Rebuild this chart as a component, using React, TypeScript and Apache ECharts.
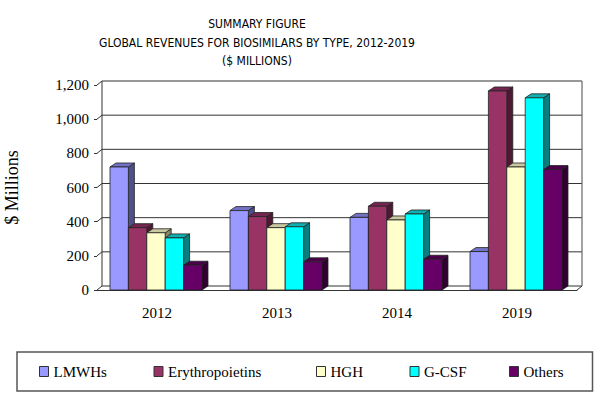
import React, { useEffect, useRef } from "react";
import * as echarts from "echarts";

const categories = ["2012", "2013", "2014", "2019"];
const seriesNames = ["LMWHs", "Erythropoietins", "HGH", "G-CSF", "Others"];
const lmwhs = [720, 465, 425, 225];
const erythropoietins = [365, 430, 490, 1165];
const hgh = [335, 365, 410, 720];
const gcsf = [305, 370, 445, 1125];
const others = [145, 165, 180, 705];
const yTicks = [0, 200, 400, 600, 800, 1000, 1200];
const titleLines = [
  "SUMMARY FIGURE",
  "GLOBAL REVENUES FOR BIOSIMILARS BY TYPE, 2012-2019",
  "($ MILLIONS)",
];

const values = [lmwhs, erythropoietins, hgh, gcsf, others];
const frontColors = ["#9999FF", "#993366", "#FFFFCC", "#00FFFF", "#660066"];
const topColors = ["#7373c6", "#742650", "#c9c9a1", "#10b0b0", "#4a004a"];
const sideColors = ["#4f4f8e", "#4e1932", "#85856a", "#0a7f7f", "#300030"];
const legendTextWidths = [100, 148, 79, 85, 60];

const DX = 6;
const DY = -4;
const WDX = 5;
const WDY = -4;
const LINE = "#333";

export default function App() {
  const ref = useRef<HTMLDivElement>(null);
  useEffect(() => {
    document.body.style.margin = "0";
    const chart = echarts.init(ref.current!, null, { renderer: "svg" });

    const barSeries = seriesNames.map((name, si) => ({
      name,
      type: "custom",
      z: 3,
      itemStyle: { color: frontColors[si] },
      encode: { x: 0, y: 1 },
      data: values[si].map((v, i) => [i, v]),
      renderItem: (params: any, api: any) => {
        const cat = api.value(0);
        const val = api.value(1);
        const base = api.coord([cat, 0]);
        const top = api.coord([cat, val]);
        const bandW = api.size([1, 0])[0];
        const barW = bandW * 0.1533;
        const groupW = barW * 5;
        const x0 = base[0] - groupW / 2 - 1 + si * barW;
        const x1 = x0 + barW;
        const yb = base[1];
        const yt = top[1];
        const st = { stroke: "#222", lineWidth: 0.8 };
        return {
          type: "group",
          children: [
            {
              type: "polygon",
              shape: { points: [[x1, yb], [x1 + DX, yb + DY], [x1 + DX, yt + DY], [x1, yt]] },
              style: { fill: sideColors[si], ...st },
            },
            {
              type: "polygon",
              shape: { points: [[x0, yt], [x1, yt], [x1 + DX, yt + DY], [x0 + DX, yt + DY]] },
              style: { fill: topColors[si], ...st },
            },
            {
              type: "rect",
              shape: { x: x0, y: yt, width: barW, height: yb - yt },
              style: { fill: frontColors[si], ...st },
            },
          ],
        };
      },
    }));

    const wallSeries = {
      name: "walls",
      type: "custom",
      z: 1,
      silent: true,
      encode: { x: 0, y: 1 },
      data: [[0, 0]],
      renderItem: (params: any, api: any) => {
        const cs = params.coordSys;
        const gx = cs.x;
        const gw = cs.width;
        const children: any[] = [];
        const yTop = api.coord([0, yTicks[yTicks.length - 1]])[1];
        const yBot = api.coord([0, 0])[1];
        children.push({
          type: "polygon",
          shape: {
            points: [
              [gx + WDX, yTop + WDY],
              [gx + gw + WDX, yTop + WDY],
              [gx + gw + WDX, yBot + WDY],
              [gx + gw, yBot],
              [gx, yBot],
              [gx, yTop],
            ],
          },
          style: { fill: "#fff", stroke: "none" },
        });
        yTicks.forEach((t) => {
          const y = api.coord([0, t])[1];
          children.push({
            type: "polyline",
            shape: { points: [[gx, y], [gx + WDX, y + WDY], [gx + gw + WDX, y + WDY]] },
            style: { stroke: LINE, lineWidth: 1, fill: "none" },
          });
        });
        children.push({
          type: "line",
          shape: { x1: gx + WDX, y1: yTop + WDY, x2: gx + WDX, y2: yBot + WDY },
          style: { stroke: LINE, lineWidth: 1 },
        });
        children.push({
          type: "line",
          shape: { x1: gx + gw + WDX, y1: yTop + WDY, x2: gx + gw + WDX, y2: yBot + WDY },
          style: { stroke: "#666", lineWidth: 1.2 },
        });
        children.push({
          type: "line",
          shape: { x1: gx + gw, y1: yBot, x2: gx + gw + WDX, y2: yBot + WDY },
          style: { stroke: LINE, lineWidth: 1 },
        });
        return { type: "group", children };
      },
    };

    chart.setOption({
      animation: false,
      backgroundColor: "#fff",
      grid: {
        left: 97,
        right: 31,
        top: 85,
        bottom: 107,
        containLabel: false,
        outerBoundsMode: "none",
      },
      graphic: [
        {
          type: "text",
          x: 257,
          y: 15,
          style: {
            text: titleLines.join("\n"),
            textAlign: "center",
            textVerticalAlign: "top",
            fontFamily: "'DejaVu Sans Condensed', 'Liberation Sans Narrow', 'DejaVu Sans', sans-serif",
            fontSize: 12,
            lineHeight: 18.5,
            fill: "#000",
          },
        },
      ],
      xAxis: {
        type: "category",
        data: categories,
        axisLine: { lineStyle: { color: LINE, width: 1 } },
        axisTick: { length: 4, lineStyle: { color: LINE } },
        axisLabel: {
          color: "#000",
          fontFamily: "'Liberation Serif', serif",
          fontSize: 15,
          margin: 15,
        },
        splitLine: { show: false },
      },
      yAxis: {
        type: "value",
        min: 0,
        max: 1200,
        interval: 200,
        name: "$ Millions",
        nameLocation: "middle",
        nameRotate: 90,
        nameGap: 76,
        nameTextStyle: { color: "#000", fontFamily: "'Liberation Serif', serif", fontSize: 18 },
        axisLine: { show: true, lineStyle: { color: LINE, width: 1 } },
        axisTick: { show: true, length: 3, lineStyle: { color: LINE } },
        axisLabel: {
          color: "#000",
          fontFamily: "'Liberation Serif', serif",
          fontSize: 15,
          margin: 8,
          padding: [0, 0, 10, 0],
          formatter: (v: number) => v.toLocaleString("en-US"),
        },
        splitLine: { show: false },
      },
      legend: {
        left: 17,
        top: 352,
        orient: "horizontal",
        icon: "rect",
        itemWidth: 9,
        itemHeight: 10,
        itemGap: 0,
        padding: [11.5, 9, 11.5, 22],
        borderColor: "#555",
        borderWidth: 1.5,
        itemStyle: { borderColor: "#333", borderWidth: 1 },
        textStyle: {
          color: "#000",
          fontFamily: "'Liberation Serif', serif",
          fontSize: 15,
          lineHeight: 16,
        },
        data: seriesNames.map((n, i) => ({
          name: n,
          textStyle: { width: legendTextWidths[i] },
        })),
      },
      series: [wallSeries, ...barSeries],
    });
    return () => chart.dispose();
  }, []);
  return <div ref={ref} style={{ width: 608, height: 397 }} />;
}
